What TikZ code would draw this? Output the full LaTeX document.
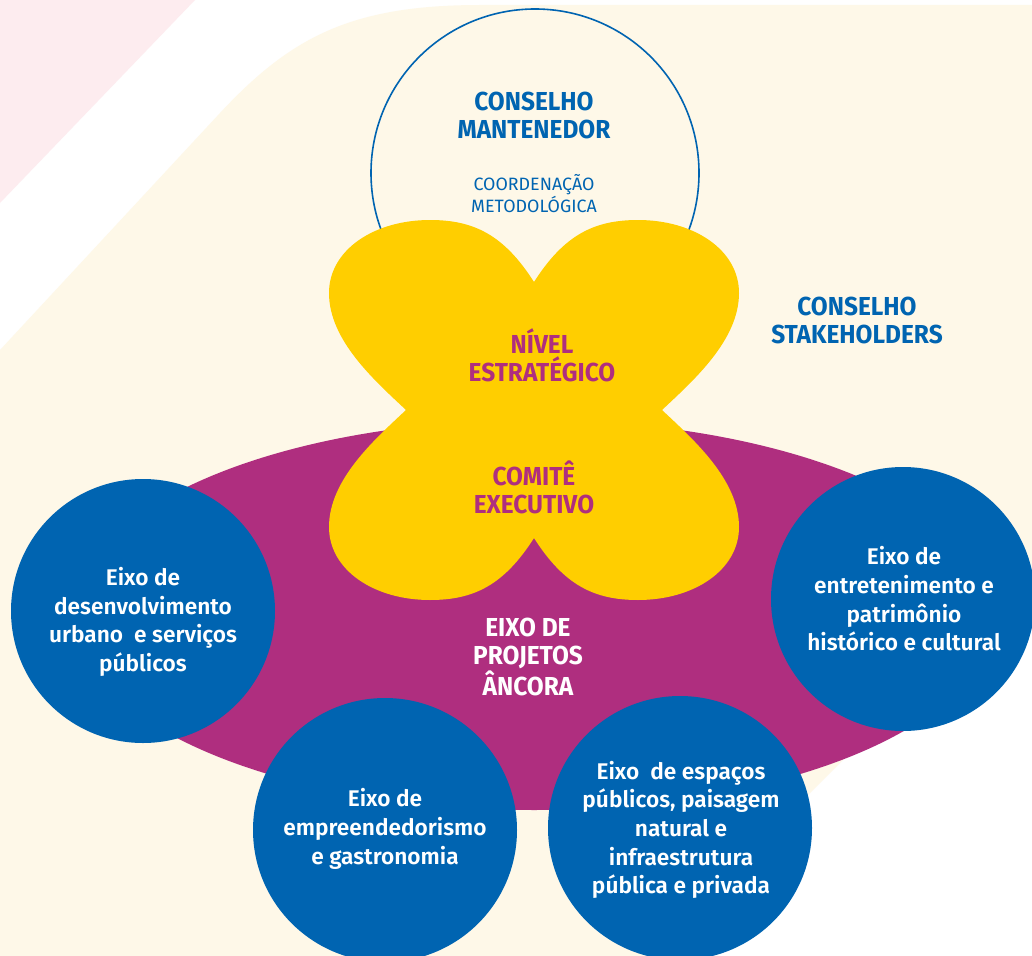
\documentclass[tikz,border=0pt]{standalone}
\usepackage{fontspec}
\usetikzlibrary{shapes.geometric}
\setmainfont{Fira Sans}
\newfontfamily\headfont{Fira Sans}[FakeStretch=0.94]
\newfontfamily\axfont{Fira Sans SemiBold}
\definecolor{cream}{HTML}{FEF8E8}
\definecolor{pinkbg}{HTML}{FDECEF}
\definecolor{ublue}{HTML}{0064B1}
\definecolor{umag}{HTML}{AF2E7F}
\definecolor{uyel}{HTML}{FFCE00}
\begin{document}
\begin{tikzpicture}[x=0.75pt,y=-0.75pt,
  head/.style={font=\headfont\bfseries\fontsize{19.5}{21}\selectfont, align=center, inner sep=0},
  sub/.style={font=\fontsize{13.4}{16.5}\selectfont, align=center, inner sep=0, text=ublue},
  axis/.style={circle, fill=ublue, minimum size=198pt, inner sep=0},
  axtext/.style={font=\axfont\fontsize{17}{21.5}\selectfont, text=white, align=center, inner sep=0}]
\useasboundingbox (0,0) rectangle (1032,956);
\fill[white] (0,0) rectangle (1032,956);
% background
\fill[pinkbg] (0,0) -- (195,0) -- (0,203) -- cycle;
\fill[cream] (0,350) -- (220,113) .. controls (290,38) and (350,5) .. (480,5) -- (1032,5) -- (1032,571) -- (647,956) -- (0,956) -- cycle;
% outline circle
\node[circle, draw=ublue, line width=1.2pt, minimum size=246pt, inner sep=0] (mant) at (535,173) {};
% magenta ellipse
\node[ellipse, fill=umag, minimum width=690pt, minimum height=292.5pt, inner sep=0] (proj) at (534,615) {};
% flower
\begin{scope}[shift={(534,410)}]
\fill[uyel] (0,-128) .. controls (-30,-175) and (-60,-190) .. (-104,-190)
  .. controls (-160,-190) and (-205,-160) .. (-205,-117)
  .. controls (-205,-70) and (-160,-30) .. (-128,0)
  .. controls (-160,30) and (-205,70) .. (-205,117)
  .. controls (-205,160) and (-160,190) .. (-104,190)
  .. controls (-60,190) and (-30,175) .. (0,128)
  .. controls (30,175) and (60,190) .. (104,190)
  .. controls (160,190) and (205,160) .. (205,117)
  .. controls (205,70) and (160,30) .. (128,0)
  .. controls (160,-30) and (205,-70) .. (205,-117)
  .. controls (205,-160) and (160,-190) .. (104,-190)
  .. controls (60,-190) and (30,-175) .. (0,-128) -- cycle;
\end{scope}
% blue circles
\node[axis] (c1) at (143,611) {};
\node[axis] (c2) at (385,830) {};
\node[axis] (c3) at (680,828) {};
\node[axis] (c4) at (903,599) {};
% texts
\node[head, text=ublue] (t1) at (534,115) {CONSELHO\\MANTENEDOR};
\node[sub] (t2) at (534,194) {COORDENAÇÃO\\METODOLÓGICA};
\node[head, text=umag] (t3) at (542,355) {NÍVEL\\ESTRATÉGICO};
\node[head, text=umag] (t4) at (534,487) {COMITÊ\\EXECUTIVO};
\node[head, text=ublue] (t5) at (857,320) {CONSELHO\\STAKEHOLDERS};
\node[head, text=white] (t6) at (528,657) {EIXO DE\\PROJETOS\\ÂNCORA};
\node[axtext] (a1) at (143,622) {Eixo de\\desenvolvimento\\urbano\ \ e serviços\\públicos};
\node[axtext] (a2) at (385,829) {Eixo de\\empreendedorismo\\e gastronomia};
\node[axtext] (a3) at (681,830) {Eixo\ \ de espaços\\públicos, paisagem\\natural e\\infraestrutura\\pública e privada};
\node[axtext] (a4) at (904,599) {Eixo de\\entretenimento e\\patrimônio\\histórico e cultural};
\end{tikzpicture}
\end{document}
